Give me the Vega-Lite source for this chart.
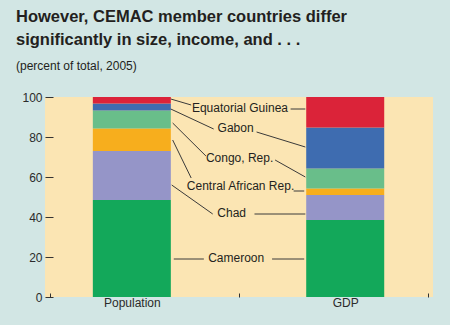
{
  "$schema": "https://vega.github.io/schema/vega-lite/v6.json",
  "autosize": "none",
  "width": 388,
  "height": 200,
  "padding": {"left": 45, "top": 97, "right": 17, "bottom": 28},
  "background": "#D2E6E4",
  "config": {
    "view": {"fill": "#FBE5B3", "stroke": null},
    "font": "Liberation Sans",
    "axis": {"domain": false, "grid": false, "labelFont": "Liberation Sans", "labelFontSize": 12, "labelColor": "#2b2b2b", "title": null, "labelOverlap": false, "labelFlush": false},
    "axisX": {"tickSize": -4, "labelPadding": 4},
    "axisY": {"tickSize": -8, "labelPadding": 11, "tickColor": "#333333"}
  },
  "title": {
    "text": ["However, CEMAC member countries differ", "significantly in size, income, and . . ."],
    "subtitle": "(percent of total, 2005)",
    "anchor": "start",
    "frame": "group",
    "orient": "top",
    "dx": -29,
    "offset": 19,
    "font": "Liberation Sans",
    "fontSize": 16.5,
    "fontWeight": "bold",
    "lineHeight": 23,
    "color": "#231F20",
    "subtitleFont": "Liberation Sans",
    "subtitleFontSize": 12,
    "subtitleColor": "#231F20",
    "subtitlePadding": 13
  },
  "encoding": {
    "x": {"field": "px", "type": "quantitative",
      "scale": {"domain": [0, 2], "nice": false, "zero": false},
      "axis": {
        "values": [0, 0.433, 1, 1.562, 2],
        "labelExpr": "datum.value == 0.433 ? 'Population' : datum.value == 1.562 ? 'GDP' : ''",
        "tickColor": {"condition": {"test": "datum.value == 0.433 || datum.value == 1.562", "value": "transparent"}, "value": "#333333"}
      }},
    "y": {"field": "py", "type": "quantitative",
      "scale": {"domain": [0, 100], "nice": false},
      "axis": {"values": [0, 20, 40, 60, 80, 100], "labelOverlap": false}}
  },
  "layer": [
    {
      "data": {"values": [
        {"measure": "Population", "px": 0.433, "country": "Cameroon", "rank": 1, "py": 48.5},
        {"measure": "Population", "px": 0.433, "country": "Chad", "rank": 2, "py": 24.5},
        {"measure": "Population", "px": 0.433, "country": "Central African Rep.", "rank": 3, "py": 11.2},
        {"measure": "Population", "px": 0.433, "country": "Congo, Rep.", "rank": 4, "py": 9.0},
        {"measure": "Population", "px": 0.433, "country": "Gabon", "rank": 5, "py": 3.6},
        {"measure": "Population", "px": 0.433, "country": "Equatorial Guinea", "rank": 6, "py": 3.2},
        {"measure": "GDP", "px": 1.562, "country": "Cameroon", "rank": 1, "py": 38.5},
        {"measure": "GDP", "px": 1.562, "country": "Chad", "rank": 2, "py": 12.5},
        {"measure": "GDP", "px": 1.562, "country": "Central African Rep.", "rank": 3, "py": 3.3},
        {"measure": "GDP", "px": 1.562, "country": "Congo, Rep.", "rank": 4, "py": 10.0},
        {"measure": "GDP", "px": 1.562, "country": "Gabon", "rank": 5, "py": 20.4},
        {"measure": "GDP", "px": 1.562, "country": "Equatorial Guinea", "rank": 6, "py": 15.3}
      ]},
      "mark": {"type": "bar", "orient": "vertical", "size": 78},
      "encoding": {
        "color": {"field": "country", "type": "nominal", "legend": null,
          "scale": {"domain": ["Cameroon", "Chad", "Central African Rep.", "Congo, Rep.", "Gabon", "Equatorial Guinea"],
                    "range": ["#13A85A", "#9595C8", "#F7AE1D", "#69BE8A", "#3E6CB0", "#DB2339"]}},
        "order": {"field": "rank", "type": "quantitative"}
      }
    },
    {
      "data": {"values": [
        {"px": 0.639, "py": 99, "px2": 0.747, "py2": 96},
        {"px": 0.639, "py": 94, "px2": 0.866, "py2": 84},
        {"px": 0.649, "py": 87, "px2": 0.825, "py2": 70.5},
        {"px": 0.649, "py": 78.5, "px2": 0.747, "py2": 59.5},
        {"px": 0.644, "py": 56, "px2": 0.861, "py2": 41.5},
        {"px": 0.655, "py": 19, "px2": 0.814, "py2": 19},
        {"px": 1.273, "py": 94, "px2": 1.351, "py2": 94},
        {"px": 1.093, "py": 82.5, "px2": 1.351, "py2": 75},
        {"px": 1.191, "py": 68.5, "px2": 1.351, "py2": 60},
        {"px": 1.289, "py": 53, "px2": 1.345, "py2": 53},
        {"px": 1.082, "py": 41.5, "px2": 1.351, "py2": 41.5},
        {"px": 1.175, "py": 19, "px2": 1.345, "py2": 19}
      ]},
      "mark": {"type": "rule", "color": "#3a3a3a", "strokeWidth": 1},
      "encoding": {
        "x2": {"field": "px2"},
        "y2": {"field": "py2"}
      }
    },
    {
      "data": {"values": [
        {"label": "Equatorial Guinea", "px": 1.005, "py": 94.5},
        {"label": "Gabon", "px": 0.982, "py": 84.5},
        {"label": "Congo, Rep.", "px": 1.003, "py": 69.5},
        {"label": "Central African Rep.", "px": 1.008, "py": 55.5},
        {"label": "Chad", "px": 0.961, "py": 42},
        {"label": "Cameroon", "px": 0.985, "py": 19.5}
      ]},
      "mark": {"type": "text", "align": "center", "baseline": "middle", "fontSize": 12, "font": "Liberation Sans", "color": "#231F20"},
      "encoding": {
        "text": {"field": "label"}
      }
    }
  ]
}
